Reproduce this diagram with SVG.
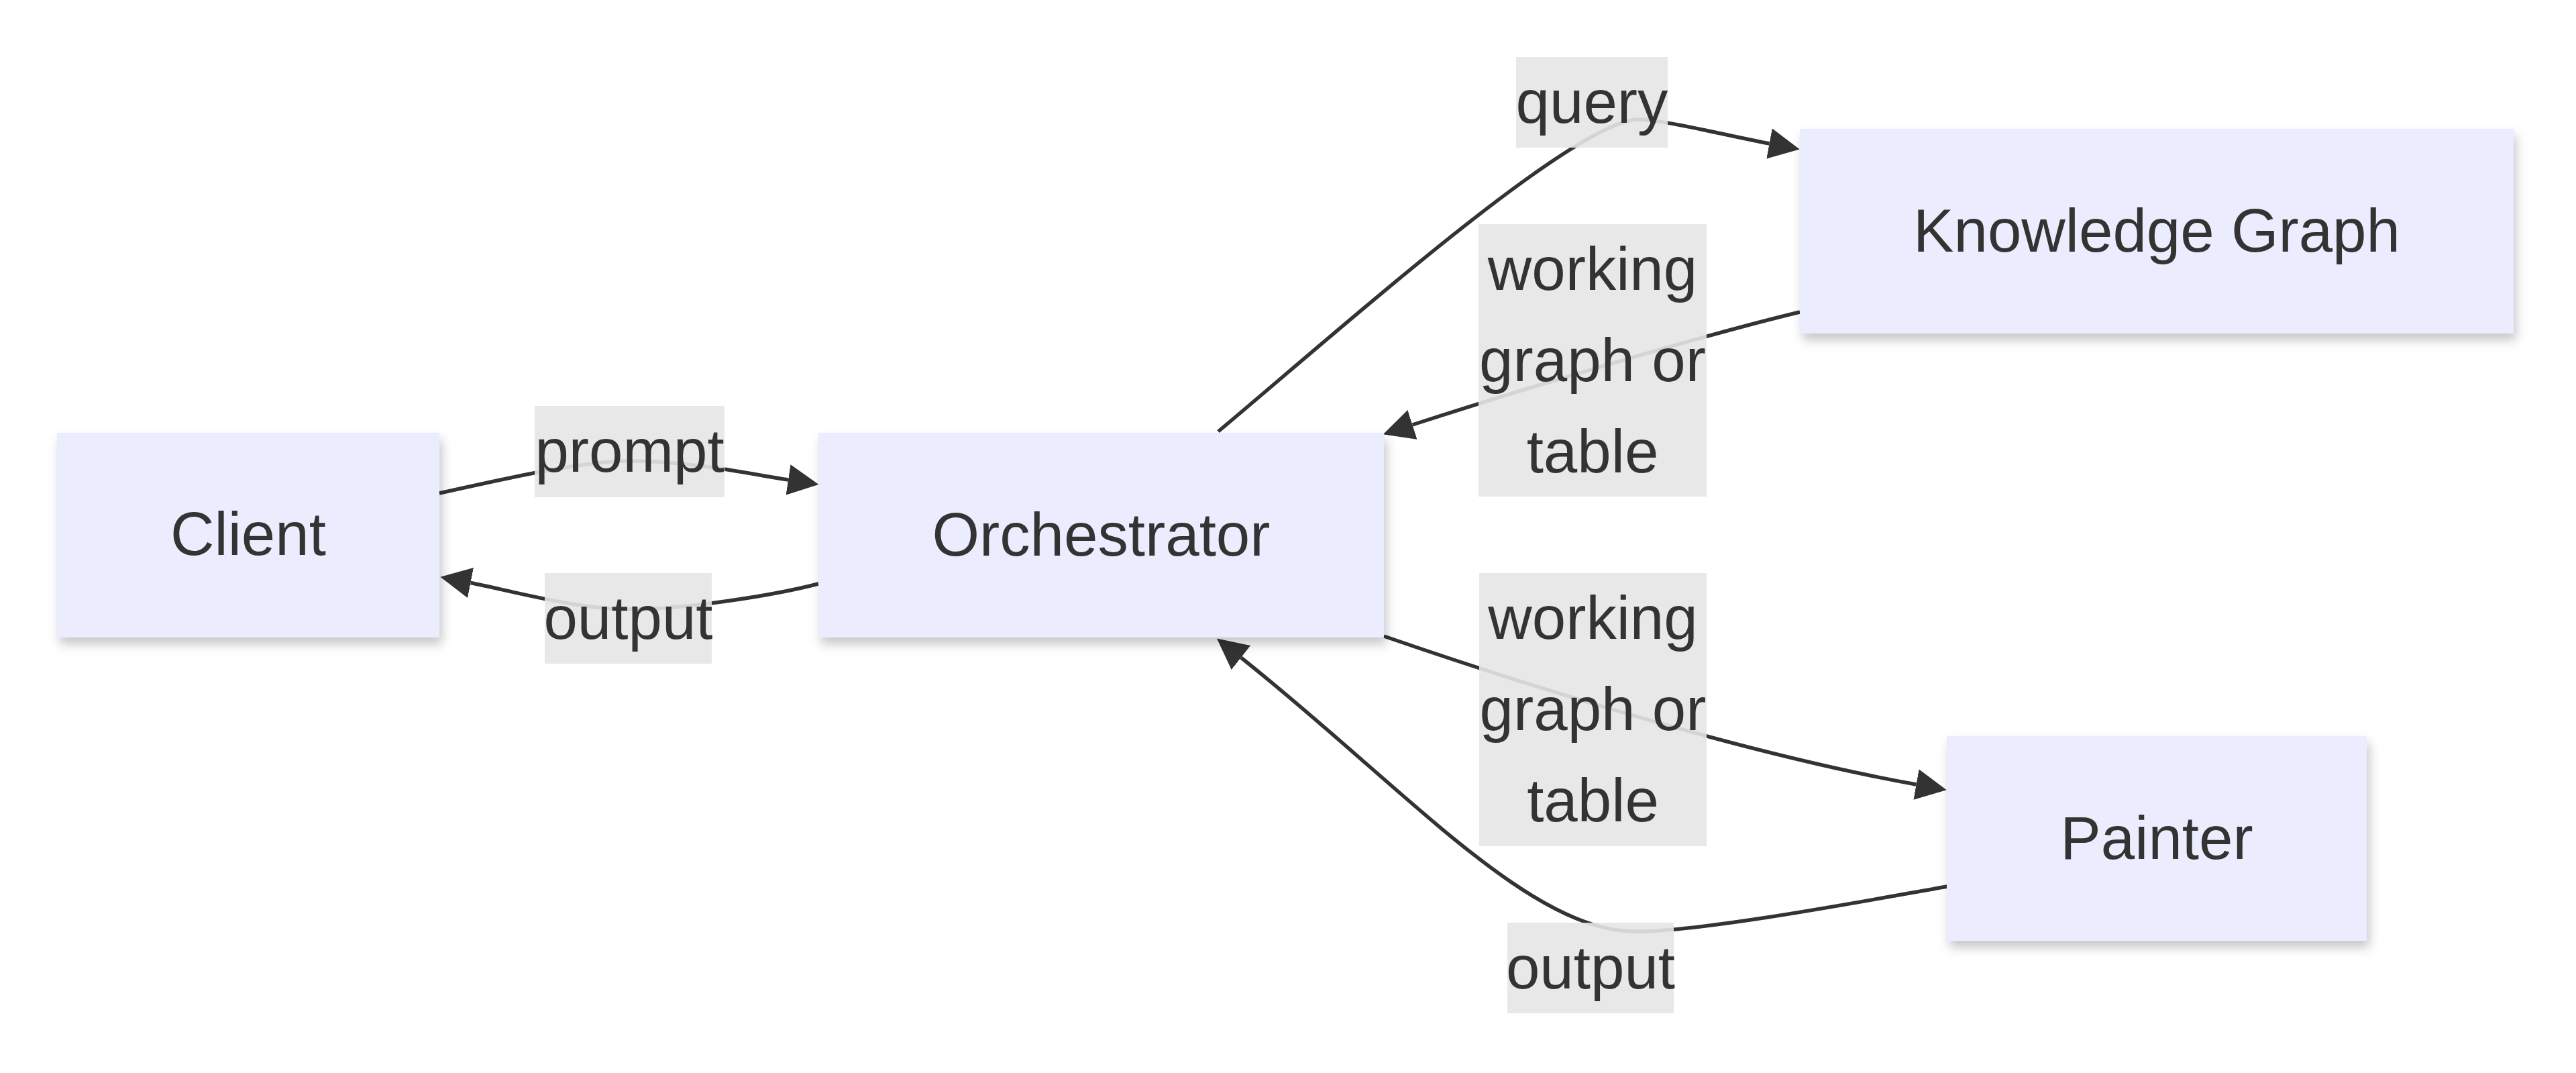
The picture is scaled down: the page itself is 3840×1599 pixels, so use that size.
<svg xmlns="http://www.w3.org/2000/svg" width="3840" height="1599" viewBox="0 0 3840 1599">
  <style>
    .node rect { fill: #ECECFF; filter: url(#shadow); }
    .node text { font-family: "Liberation Sans", Arial, sans-serif; font-size: 90.7px; fill: #333333; text-anchor: middle; }
    .edge { fill: none; stroke: #333333; stroke-width: 5.5; marker-end: url(#arrow); }
    .label rect { fill: #e6e6e6; fill-opacity: 0.9; }
    .label text { font-family: "Liberation Sans", Arial, sans-serif; font-size: 90.7px; fill: #333333; text-anchor: middle; }
  </style>
  <defs>
    <filter id="shadow" x="-10%" y="-15%" width="125%" height="140%">
      <feDropShadow dx="4" dy="10" stdDeviation="8" flood-color="#000000" flood-opacity="0.22"/>
    </filter>
    <marker id="arrow" viewBox="0 0 10 10" refX="0" refY="5" markerUnits="userSpaceOnUse" markerWidth="46" markerHeight="46" orient="auto">
      <path d="M0,0 L10,5 L0,10 z" fill="#333333"/>
    </marker>
  </defs>
  <rect width="3840" height="1599" fill="#ffffff"/>

  <g id="connectors">
    <path class="edge" d="M655,735 C720,721 860,687 938,687 C1030,687 1116,706 1175,715"/>
    <path class="edge" d="M1220,870 C1150,888 1020,908 938,908 C860,908 760,880 701.5,868.5"/>
    <path class="edge" d="M1816,643 C2000,489 2340,185 2440,178 C2480,178 2578.5,203 2637.5,214"/>
    <path class="edge" d="M2683,465 C2550,497 2300,570 2105.5,633"/>
    <path class="edge" d="M2063,948 C2299,1029.5 2610.5,1124.75 2856.5,1169"/>
    <path class="edge" d="M2903,1321 C2783,1342 2540,1388 2440,1388 C2280,1390 2093,1173 1850,980"/>
  </g>

  <g id="edge-labels">
    <g class="label" id="label-prompt">
      <rect x="797" y="605" width="283" height="136"/>
      <text x="938.5" y="703">prompt</text>
    </g>
    <g class="label" id="label-output-client">
      <rect x="812" y="854" width="249" height="135"/>
      <text x="936.5" y="951.5">output</text>
    </g>
    <g class="label" id="label-query">
      <rect x="2260" y="85" width="226" height="135"/>
      <text x="2373" y="182.5">query</text>
    </g>
    <g class="label" id="label-working-kg">
      <rect x="2204" y="334" width="340" height="406"/>
      <text x="2374" y="432">working</text>
      <text x="2374" y="568">graph or</text>
      <text x="2374" y="704">table</text>
    </g>
    <g class="label" id="label-working-painter">
      <rect x="2205" y="854" width="339" height="407"/>
      <text x="2374.5" y="952">working</text>
      <text x="2374.5" y="1088">graph or</text>
      <text x="2374.5" y="1224">table</text>
    </g>
    <g class="label" id="label-output-orch">
      <rect x="2247" y="1375" width="248" height="135"/>
      <text x="2371" y="1472.5">output</text>
    </g>
  </g>

  <g class="node" id="node-client">
    <rect x="85" y="645" width="570" height="305"/>
    <text x="370" y="827">Client</text>
  </g>
  <g class="node" id="node-orchestrator">
    <rect x="1220" y="645" width="843" height="305"/>
    <text x="1641.5" y="827.5">Orchestrator</text>
  </g>
  <g class="node" id="node-knowledge-graph">
    <rect x="2683" y="192" width="1064" height="305"/>
    <text x="3215" y="374.5">Knowledge Graph</text>
  </g>
  <g class="node" id="node-painter">
    <rect x="2902" y="1097" width="626" height="305"/>
    <text x="3215" y="1279.5">Painter</text>
  </g>
</svg>
